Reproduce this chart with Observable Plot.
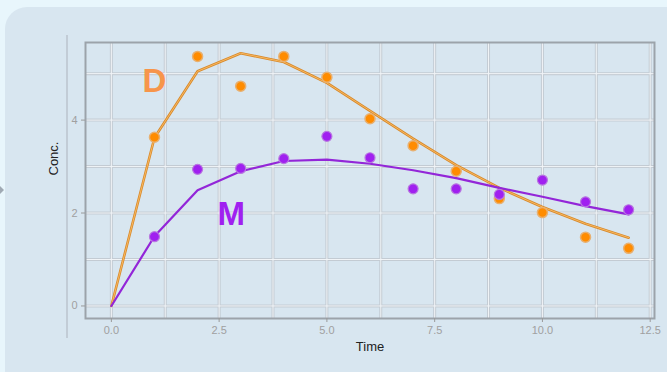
<!DOCTYPE html>
<html><head><meta charset="utf-8">
<script src="https://cdn.jsdelivr.net/npm/d3@7"></script>
<script src="https://cdn.jsdelivr.net/npm/@observablehq/plot@0.6"></script>
<style>
html,body{margin:0;padding:0;width:667px;height:372px;overflow:hidden;background:#e8f6fc;}
#card{position:absolute;left:5px;top:7px;width:720px;height:420px;background:#d8e6f0;border-radius:22px;}
#vline{position:absolute;left:66px;top:35px;width:1.5px;height:303px;background:#c2ccd6;}
#tri{position:absolute;left:0;top:186px;width:0;height:0;border-top:4px solid transparent;border-bottom:4px solid transparent;border-left:4px solid #a0aab4;}
#chart{position:absolute;left:0;top:0;}
</style></head><body>
<div id="card"></div><div id="vline"></div><div id="tri"></div><div id="chart"></div>
<script>
// observed times and concentrations
const obsTime = [1,2,3,4,5,6,7,8,9,10,11,12];
const obsD = [3.63,5.37,4.73,5.37,4.92,4.03,3.45,2.90,2.31,2.01,1.48,1.24];
const obsM = [1.49,2.94,2.96,3.17,3.65,3.19,2.52,2.52,2.40,2.71,2.24,2.07];
// fitted curves
const fitTime = [0,1,2,3,4,5,6,7,8,9,10,11,12];
const fitD = [0,3.62,5.05,5.44,5.25,4.80,4.20,3.60,3.03,2.54,2.13,1.77,1.47];
const fitM = [0,1.50,2.49,2.90,3.12,3.15,3.06,2.92,2.75,2.54,2.35,2.15,1.97];
// axes
const xTicks = [0,2.5,5,7.5,10,12.5];
const xGrid = [0,1.25,2.5,3.75,5,6.25,7.5,8.75,10,11.25,12.5];
const yTicks = [0,2,4];
const yGrid = [0,1,2,3,4,5];
// series labels
const labelText = ["D","M"];
const labelX = [1.0,2.78];
const labelY = [4.83,1.97];
const labelColor = ["#f7954a","#a020f0"];

const obs = obsTime.map((t,i)=>({t, d:obsD[i], m:obsM[i]}));
const fit = fitTime.map((t,i)=>({t, d:fitD[i], m:fitM[i]}));
const labels = labelText.map((s,i)=>({s, x:labelX[i], y:labelY[i], c:labelColor[i]}));

const font = "'Liberation Sans', Arial, Helvetica, sans-serif";
const plot = Plot.plot({
  width:667, height:372,
  marginLeft:85, marginRight:13, marginTop:42, marginBottom:54,
  style:{background:"transparent", fontFamily:font},
  x:{domain:[-0.6,12.6]},
  y:{domain:[-0.27,5.67]},
  marks:[
    Plot.ruleX(xGrid,{stroke:"#c3cbd3", strokeWidth:3}),
    Plot.ruleY(yGrid,{stroke:"#c3cbd3", strokeWidth:3}),
    Plot.ruleX(xGrid,{stroke:"#f1f4f7", strokeWidth:1}),
    Plot.ruleY(yGrid,{stroke:"#f1f4f7", strokeWidth:1}),
    Plot.frame({stroke:"#9ca3aa", strokeWidth:2}),
    Plot.axisX(xTicks,{tickSize:4, tickPadding:4, stroke:"#9a9a9a", fill:"#a0a0a0", fontSize:11, label:null, tickFormat:d=>d.toFixed(1)}),
    Plot.axisY(yTicks,{tickSize:4, tickPadding:4, stroke:"#9a9a9a", fill:"#a0a0a0", fontSize:11, label:null}),
    Plot.line(fit,{x:"t", y:"d", stroke:"#d88a2c", strokeWidth:2.6}),
    Plot.line(fit,{x:"t", y:"d", stroke:"#f8b860", strokeWidth:1}),
    Plot.line(fit,{x:"t", y:"m", stroke:"#9326d8", strokeWidth:2.2}),
    Plot.dot(obs,{x:"t", y:"d", r:5, fill:"#ff8c00", stroke:"#e8b070", strokeWidth:1.5}),
    Plot.dot(obs,{x:"t", y:"m", r:5, fill:"#a020f0", stroke:"#b878e0", strokeWidth:1.2}),
    Plot.text(labels,{x:"x", y:"y", text:"s", fill:"c", fontSize:33, fontWeight:"bold", fontFamily:font}),
    Plot.text(["Time"],{frameAnchor:"bottom", dy:32, fontSize:13, fill:"#222", fontFamily:font}),
    Plot.text(["Conc."],{frameAnchor:"left", dx:-32, dy:-5, rotate:-90, fontSize:13, fill:"#222", fontFamily:font})
  ]
});
document.getElementById("chart").appendChild(plot);
</script>
</body></html>
